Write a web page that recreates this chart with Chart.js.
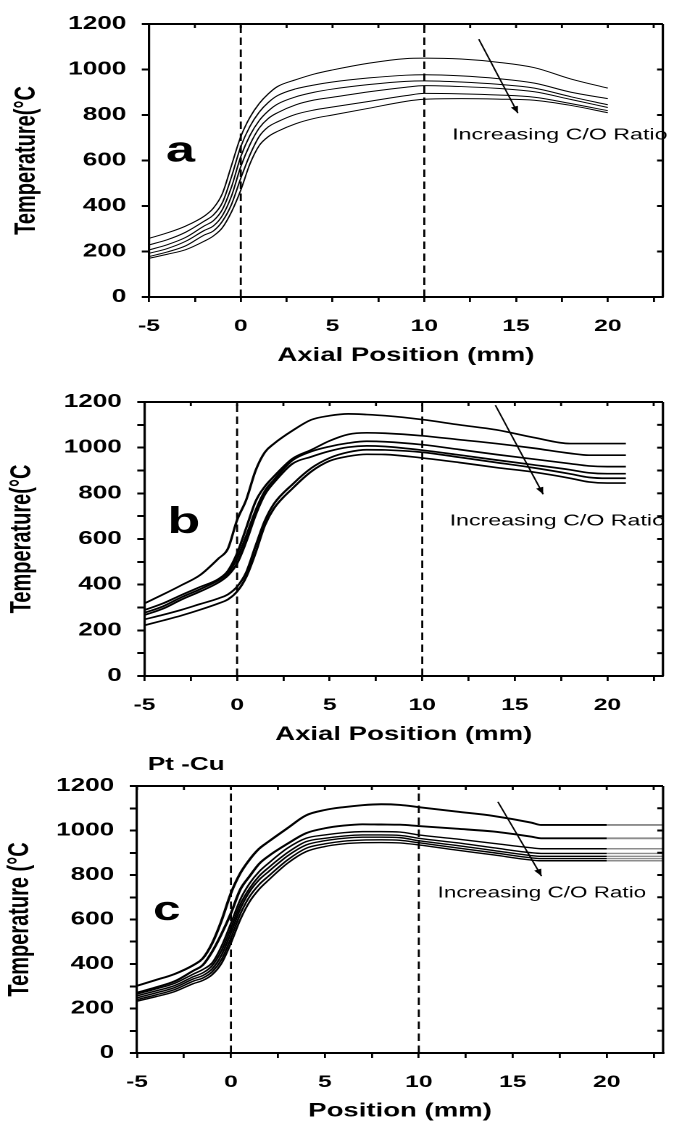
<!DOCTYPE html>
<html>
<head>
<meta charset="utf-8">
<script src="https://cdn.jsdelivr.net/npm/chart.js@4.4.1/dist/chart.umd.min.js"></script>
<style>
  body { margin: 0; background: #fff; }
  canvas { display: block; }
</style>
</head>
<body>
<canvas id="chartA" width="465" height="370" style="width:674px;height:370px"></canvas>
<canvas id="chartB" width="465" height="380" style="width:674px;height:380px"></canvas>
<canvas id="chartC" width="465" height="371" style="width:674px;height:371px"></canvas>
<script>
// panel a - axial position (mm) vs temperature, six C/O ratios
const xA = [-5, -4, -3, -2, -1.5, -1, -0.5, 0, 0.5, 1, 1.5, 2, 3, 4, 5, 7, 9, 10, 12, 14, 16, 18, 20];
const a1 = [258, 282, 312, 355, 390, 455, 580, 705, 790, 850, 893, 925, 955, 980, 998, 1028, 1048, 1050, 1046, 1032, 1008, 958, 918];
const a2 = [229, 252, 285, 333, 360, 415, 530, 661, 750, 812, 855, 885, 915, 932, 945, 963, 975, 977, 972, 960, 940, 900, 872];
const a3 = [207, 230, 262, 312, 335, 385, 485, 617, 710, 775, 818, 848, 880, 900, 914, 934, 948, 950, 945, 935, 918, 880, 845];
const a4 = [192, 213, 245, 292, 312, 358, 445, 573, 670, 742, 785, 810, 845, 866, 878, 902, 922, 929, 925, 917, 902, 868, 833];
const a5 = [178, 198, 225, 272, 290, 333, 408, 522, 625, 705, 748, 770, 803, 822, 835, 860, 885, 895, 893, 888, 878, 850, 819];
const a6 = [170, 188, 208, 245, 268, 305, 375, 470, 585, 665, 705, 728, 762, 785, 800, 830, 860, 869, 872, 870, 865, 842, 810];

// panel b
const xB = [-5, -4, -3, -2, -1, -0.5, 0, 0.5, 1, 1.5, 2, 3, 4, 5, 6, 7, 8, 10, 12, 14, 16, 18, 19, 20, 21];
const b1 = [318, 357, 398, 442, 515, 557, 683, 773, 900, 980, 1018, 1075, 1122, 1140, 1148, 1145, 1140, 1123, 1100, 1078, 1045, 1018, 1018, 1018, 1018];
const b2 = [289, 318, 355, 390, 425, 460, 537, 650, 765, 830, 875, 952, 990, 1030, 1058, 1065, 1063, 1052, 1035, 1018, 998, 975, 967, 967, 967];
const b3 = [277, 305, 345, 380, 420, 450, 515, 615, 725, 810, 860, 945, 983, 1005, 1020, 1028, 1026, 1013, 992, 970, 950, 930, 920, 917, 917];
const b4 = [267, 295, 335, 370, 410, 440, 493, 590, 705, 795, 848, 930, 960, 985, 1002, 1008, 1005, 989, 968, 946, 925, 903, 890, 886, 886];
const b5 = [248, 268, 290, 315, 340, 357, 391, 455, 570, 680, 755, 840, 910, 955, 980, 991, 990, 980, 958, 935, 912, 885, 870, 866, 866];
const b6 = [222, 243, 265, 290, 318, 335, 370, 435, 540, 660, 735, 822, 895, 942, 962, 971, 970, 955, 935, 913, 893, 866, 850, 845, 845];

// panel c - Pt-Cu
const xC = [-5, -4, -3, -2, -1.5, -1, -0.5, 0, 0.5, 1, 1.5, 2, 3, 4, 5, 6, 7, 8, 9, 10, 12, 14, 16, 16.5, 18, 20, 23];
const c1 = [302, 328, 355, 395, 425, 493, 595, 718, 808, 870, 918, 950, 1010, 1068, 1092, 1105, 1114, 1118, 1115, 1105, 1085, 1065, 1035, 1025, 1025, 1025, 1025];
const c2 = [271, 295, 322, 370, 395, 455, 535, 628, 735, 795, 850, 885, 940, 988, 1010, 1022, 1028, 1027, 1026, 1020, 1008, 995, 972, 965, 965, 965, 965];
const c3 = [265, 288, 313, 355, 375, 405, 480, 583, 690, 763, 815, 853, 920, 965, 980, 990, 995, 995, 993, 980, 962, 942, 922, 918, 918, 918, 918];
const c4 = [257, 279, 303, 343, 360, 392, 460, 561, 668, 741, 795, 833, 900, 950, 965, 975, 980, 980, 978, 965, 945, 922, 900, 897, 897, 897, 897];
const c5 = [248, 270, 294, 333, 348, 378, 440, 539, 648, 726, 778, 815, 885, 935, 954, 965, 970, 970, 968, 954, 933, 910, 887, 884, 884, 884, 884];
const c6 = [240, 261, 285, 323, 337, 365, 420, 516, 625, 704, 757, 795, 867, 920, 940, 952, 957, 958, 956, 945, 922, 900, 877, 874, 874, 874, 874];
const c7 = [233, 253, 276, 312, 326, 352, 403, 494, 600, 681, 736, 777, 852, 905, 928, 940, 945, 946, 944, 935, 912, 890, 867, 864, 864, 864, 864];

const dashX = [0, 10];
const xTicks = { min: -5, max: 23, step: 2.5 };
const yTicks = { min: 0, max: 1200 };

Chart.defaults.font.family = '"Liberation Sans", Arial, sans-serif';
Chart.defaults.color = '#000';

function pts(xs, ys) {
  return xs.map((x, i) => ({ x: x, y: ys[i] }));
}

function curveSets(xs, list, widths, greyAfter) {
  return list.map((ys, i) => ({
    data: pts(xs, ys),
    borderColor: '#000',
    borderWidth: widths[i],
    pointRadius: 0,
    cubicInterpolationMode: 'monotone',
    segment: {
      borderColor: (c) => (greyAfter != null && c.p0.parsed.x >= greyAfter ? '#8c8c8c' : '#000'),
    },
  }));
}

function dashSets() {
  return dashX.map((x) => ({
    data: [{ x: x, y: yTicks.min }, { x: x, y: yTicks.max }],
    borderColor: '#000',
    borderWidth: 1.4,
    borderDash: [7.5, 4.5],
    pointRadius: 0,
  }));
}

// box on top/right, inward ticks, panel letter, note and arrow
const framePlugin = {
  id: 'frame',
  afterDraw(chart, args, o) {
    const { ctx, chartArea: ca, scales } = chart;
    const x = scales.x, y = scales.y;
    const fam = '"Liberation Sans", Arial, sans-serif';
    ctx.save();
    ctx.strokeStyle = '#000';
    ctx.fillStyle = '#000';

    ctx.lineWidth = 2;
    ctx.beginPath();
    ctx.moveTo(ca.left, ca.top);
    ctx.lineTo(ca.right, ca.top);
    ctx.stroke();
    ctx.lineWidth = 1.6;
    ctx.beginPath();
    ctx.moveTo(ca.right, ca.top);
    ctx.lineTo(ca.right, ca.bottom);
    ctx.stroke();

    ctx.lineWidth = 1.4;
    x.ticks.forEach((t) => {
      const px = x.getPixelForValue(t.value);
      ctx.beginPath();
      ctx.moveTo(px, ca.top);
      ctx.lineTo(px, ca.top + 4);
      ctx.stroke();
    });
    ctx.lineWidth = 2;
    y.ticks.forEach((t) => {
      const py = y.getPixelForValue(t.value);
      ctx.beginPath();
      ctx.moveTo(ca.right, py);
      ctx.lineTo(ca.right - 4, py);
      ctx.stroke();
    });

    ctx.textAlign = 'center';
    ctx.textBaseline = 'alphabetic';
    ctx.font = 'bold ' + o.letterSize + 'px ' + fam;
    ctx.fillText(o.letter, x.getPixelForValue(o.letterAt[0]), y.getPixelForValue(o.letterAt[1]));

    ctx.textAlign = 'left';
    ctx.textBaseline = 'middle';
    ctx.font = o.noteSize + 'px ' + fam;
    ctx.fillText(o.note, x.getPixelForValue(o.noteAt[0]), y.getPixelForValue(o.noteAt[1]));

    if (o.title) {
      ctx.font = 'bold 18px ' + fam;
      ctx.fillText(o.title, x.getPixelForValue(o.titleAt[0]), y.getPixelForValue(o.titleAt[1]));
    }

    const x0 = x.getPixelForValue(o.arrow[0]), y0 = y.getPixelForValue(o.arrow[1]);
    const x1 = x.getPixelForValue(o.arrow[2]), y1 = y.getPixelForValue(o.arrow[3]);
    ctx.lineWidth = 1.1;
    ctx.beginPath();
    ctx.moveTo(x0, y0);
    ctx.lineTo(x1, y1);
    ctx.stroke();
    const ang = Math.atan2(y1 - y0, x1 - x0);
    const L = 7, W = 2.6;
    ctx.beginPath();
    ctx.moveTo(x1, y1);
    ctx.lineTo(x1 - L * Math.cos(ang) + W * Math.sin(ang), y1 - L * Math.sin(ang) - W * Math.cos(ang));
    ctx.lineTo(x1 - L * Math.cos(ang) - W * Math.sin(ang), y1 - L * Math.sin(ang) + W * Math.cos(ang));
    ctx.closePath();
    ctx.fill();
    ctx.restore();
  },
};

function makeChart(id, cfg) {
  return new Chart(document.getElementById(id), {
    type: 'line',
    data: { datasets: cfg.datasets },
    options: {
      responsive: false,
      devicePixelRatio: 2,
      animation: false,
      layout: { padding: { left: 0, right: 1.6, top: cfg.top, bottom: 0 } },
      plugins: {
        legend: { display: false },
        tooltip: { enabled: false },
        frame: cfg.frame,
      },
      scales: {
        x: {
          type: 'linear',
          min: xTicks.min,
          max: xTicks.max,
          afterFit: (s) => { s.height = cfg.xHeight; },
          border: { display: true, color: '#000', width: 2 },
          grid: { drawOnChartArea: false, drawTicks: true, tickLength: 5, color: '#000', lineWidth: 1.4 },
          ticks: {
            stepSize: xTicks.step,
            includeBounds: false,
            autoSkip: false,
            maxRotation: 0,
            padding: 14,
            color: '#000',
            font: { size: 17, weight: 'bold' },
            callback: (v) => (v % 5 === 0 ? v : ''),
          },
          title: {
            display: true,
            text: cfg.xTitle,
            color: '#000',
            font: { size: 19, weight: 'bold', lineHeight: 1 },
            padding: { top: 0, bottom: cfg.xTitlePad },
          },
        },
        y: {
          min: yTicks.min,
          max: yTicks.max,
          afterFit: (s) => { s.width = cfg.left; },
          border: { display: true, color: '#000', width: 1.6 },
          grid: { drawOnChartArea: false, drawTicks: true, tickLength: 5, color: '#000', lineWidth: 2 },
          ticks: {
            stepSize: cfg.yStep,
            autoSkip: false,
            padding: 10.7,
            color: '#000',
            font: { size: 18, weight: 'bold' },
            callback: (v) => (v % 200 === 0 ? v : ''),
          },
          title: {
            display: true,
            text: cfg.yTitle,
            color: '#000',
            font: { size: 20, weight: 'bold', lineHeight: 1 },
            padding: { top: cfg.yTitlePad, bottom: 0 },
          },
        },
      },
    },
    plugins: [framePlugin],
  });
}

makeChart('chartA', {
  datasets: dashSets().concat(curveSets(xA, [a1, a2, a3, a4, a5, a6], [1, 1, 1, 1, 1, 1], null)),
  top: 24, left: 102.8, xHeight: 73, xTitlePad: 4.5, yTitlePad: 8.5, yStep: 200,
  xTitle: 'Axial Position (mm)',
  yTitle: 'Temperature(°C',
  frame: {
    letter: 'a', letterAt: [-3.29, 596], letterSize: 36,
    note: 'Increasing C/O Ratio', noteAt: [11.52, 712], noteSize: 16,
    arrow: [12.97, 1133, 15.1, 808],
  },
});

makeChart('chartB', {
  datasets: dashSets().concat(curveSets(xB, [b1, b2, b3, b4, b5, b6], [1.7, 1.7, 1.7, 1.7, 1.7, 1.7], null)),
  top: 32, left: 99.7, xHeight: 74, xTitlePad: 5.5, yTitlePad: 5.5, yStep: 100,
  xTitle: 'Axial Position (mm)',
  yTitle: 'Temperature(°C',
  frame: {
    letter: 'b', letterAt: [-2.88, 626], letterSize: 37,
    note: 'Increasing C/O Ratio', noteAt: [11.48, 679], noteSize: 16,
    arrow: [13.95, 1186, 16.53, 796],
  },
});

makeChart('chartC', {
  datasets: dashSets().concat(curveSets(xC, [c1, c2, c3, c4, c5, c6, c7], [1.9, 1.9, 1.4, 1.4, 1.4, 1.4, 1.4], 20)),
  top: 36, left: 94.5, xHeight: 68, xTitlePad: 0, yTitlePad: 3.8, yStep: 100,
  xTitle: 'Position (mm)',
  yTitle: 'Temperature (°C',
  frame: {
    letter: 'c', letterAt: [-3.41, 598], letterSize: 34,
    note: 'Increasing C/O Ratio', noteAt: [11.0, 718], noteSize: 15.5,
    title: 'Pt -Cu', titleAt: [-4.42, 1294],
    arrow: [14.21, 1129, 16.53, 795],
  },
});
</script>
</body>
</html>
